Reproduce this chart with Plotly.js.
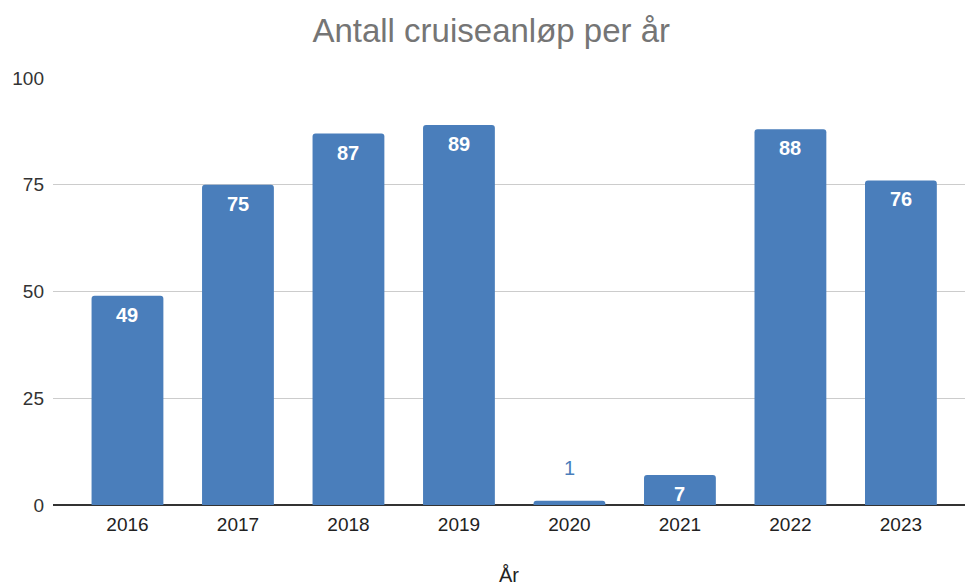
<!DOCTYPE html>
<html>
<head>
<meta charset="utf-8">
<script src="https://cdn.plot.ly/plotly-3.0.1.min.js"></script>
<style>html,body{margin:0;padding:0;background:#fff;}#chart{width:967px;height:586px;}</style>
</head>
<body>
<div id="chart"></div>
<script>
const years = ['2016', '2017', '2018', '2019', '2020', '2021', '2022', '2023'];
const calls = [49, 75, 87, 89, 1, 7, 88, 76];
const yTicks = [0, 25, 50, 75, 100];
const chartTitle = 'Antall cruiseanløp per år';
const xTitle = 'År';

const barColor = '#4a7ebb';
const fontFam = 'Liberation Sans, Arial, sans-serif';

const trace = {
  type: 'bar',
  x: years,
  y: calls,
  marker: {color: barColor, cornerradius: 3},
  hoverinfo: 'x+y'
};

// category index positions on the category axis
const labels = years.map((yr, i) => {
  const v = calls[i];
  const inside = v >= 5;
  return {
    x: i, y: v, xref: 'x', yref: 'y',
    text: String(v),
    showarrow: false,
    yanchor: inside ? 'top' : 'bottom',
    yshift: inside ? -6 : 20,
    font: inside ? {family: fontFam, size: 20, color: '#ffffff', weight: 700}
                 : {family: fontFam, size: 20, color: '#4a7ebb'}
  };
});

const layout = {
  width: 967,
  height: 586,
  margin: {l: 53, r: 2, t: 78, b: 81},
  paper_bgcolor: '#ffffff',
  plot_bgcolor: '#ffffff',
  bargap: 0.35,
  showlegend: false,
  font: {family: fontFam, color: '#333333'},
  title: {
    text: chartTitle,
    font: {family: fontFam, size: 33, color: '#757575'},
    x: 0.508, xanchor: 'center',
    y: 0.948, yanchor: 'middle'
  },
  annotations: labels,
  xaxis: {
    type: 'category',
    range: [-0.674, 7.58],
    showgrid: false,
    showline: false,
    zeroline: false,
    ticks: '',
    tickfont: {size: 19, color: '#222222'},
    ticklabelstandoff: 6,
    title: {text: xTitle, font: {size: 20, color: '#222222'}, standoff: 33},
    fixedrange: true
  },
  yaxis: {
    range: [0, 100],
    tickvals: yTicks,
    ticktext: yTicks.map(String),
    showgrid: true,
    gridcolor: '#cccccc',
    gridwidth: 1,
    zeroline: true,
    zerolinecolor: '#333333',
    zerolinewidth: 2,
    ticks: '',
    tickfont: {size: 19, color: '#333333'},
    ticklabelstandoff: 8,
    fixedrange: true
  }
};

Plotly.newPlot('chart', [trace], layout, {displayModeBar: false, staticPlot: true});
</script>
</body>
</html>
